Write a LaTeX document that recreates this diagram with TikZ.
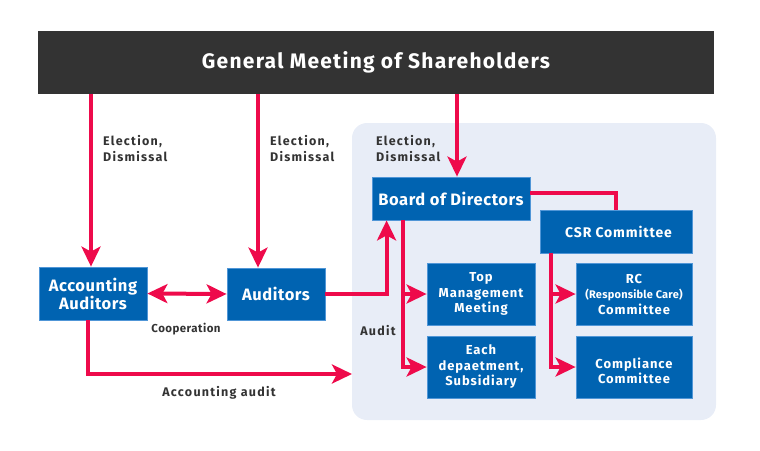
\documentclass[tikz,border=0pt]{standalone}
\usepackage{fontspec}
\setmainfont{Fira Sans}
\usetikzlibrary{arrows.meta,positioning,calc}
\definecolor{gmsdark}{RGB}{51,51,51}
\definecolor{boxblue}{RGB}{0,99,177}
\definecolor{boxedge}{RGB}{80,150,215}
\definecolor{arrred}{RGB}{238,10,75}
\definecolor{panelbg}{RGB}{232,237,247}
\definecolor{labtext}{RGB}{51,51,51}
\newcommand{\spaced}[1]{\addfontfeature{LetterSpace=#1}}
\tikzset{
  topbar/.style={fill=gmsdark, text=white, inner sep=0pt,
                 font=\fontsize{21}{21}\selectfont\bfseries\spaced{6}},
  panel/.style={fill=panelbg, rounded corners=15pt, inner sep=0pt},
  bigbox/.style={draw=boxedge, line width=0.8pt, fill=boxblue, text=white, align=center,
                 inner sep=0pt, font=\fontsize{16.5}{16}\selectfont\bfseries\spaced{3.5}},
  smallbox/.style={draw=boxedge, line width=0.8pt, fill=boxblue, text=white, align=center,
                   inner sep=0pt, minimum width=108, minimum height=62,
                   font=\fontsize{13}{15.5}\selectfont\bfseries\spaced{7}},
  lab/.style={text=labtext, align=left, inner sep=0pt,
              font=\fontsize{12.5}{16}\selectfont\bfseries\spaced{10}},
  redarr/.style={arrred, line width=4pt, -{Stealth[length=20pt, width=19pt, inset=5pt]}},
  redboth/.style={arrred, line width=4pt,
                  {Stealth[length=20pt, width=19pt, inset=5pt]}-{Stealth[length=20pt, width=19pt, inset=5pt]}},
  redline/.style={arrred, line width=4pt},
}

\begin{document}
\begin{tikzpicture}[x=1pt, y=-1pt]
  \useasboundingbox (0,0) rectangle (760,450);
  % background panel and top bar
  \node[panel, minimum width=364, minimum height=297] (panel) at (534,271.5) {};
  \node[topbar, minimum width=676, minimum height=63] (gms) at (376,62.5) {General Meeting of Shareholders};
  % boxes
  \node[bigbox, minimum width=108, minimum height=53] (acc) at (93,293.5) {Accounting\\Auditors};
  \node[bigbox, minimum width=98, minimum height=52] (aud) at (276,294) {Auditors};
  \node[bigbox, minimum width=158, minimum height=43] (bod) at (451,198.5) {Board of Directors};
  \node[bigbox, minimum width=152, minimum height=43, font=\fontsize{14}{16}\selectfont\bfseries\spaced{6}] (csr) at (616,231.5) {\hspace*{5pt}CSR Committee};
  \node[smallbox] (tmm) at (481,294) {Top\\Management\\Meeting};
  \node[smallbox] (dept) at (481,367) {Each\\depaetment,\\Subsidiary};
  \node[smallbox, minimum width=116] (rc) at (634,294) {RC\\{\fontsize{11}{14}\selectfont\spaced{2}(Responsible Care)}\\Committee};
  \node[smallbox, minimum width=116] (comp) at (634,367) {{}\\[3pt]Compliance\\Committee};
  % labels
  \node[lab, anchor=north west] (el1) at (103,135) {Election,\\Dismissal};
  \node[lab, anchor=north west] (el2) at (270,135) {Election,\\Dismissal};
  \node[lab, anchor=north west] (el3) at (376,135) {Election,\\Dismissal};
  \node[lab, font=\fontsize{11.5}{16}\selectfont\bfseries\spaced{4}] (coop) at (186,329) {Cooperation};
  \node[lab] (audl) at (378,331) {Audit};
  \node[lab] (accl) at (219,393) {Accounting audit};
  % anchor points
  \coordinate (accin) at ([xshift=-2pt]acc.north);
  \coordinate (audin) at ([xshift=-18pt]aud.north);
  \coordinate (bodin) at ([xshift=6pt]bod.north);
  \coordinate (bodaud) at ([xshift=15pt]bod.south west);
  \coordinate (accout) at ([xshift=-5pt]acc.south);
  \coordinate (accaud) at (352,374);
  \coordinate (bodout) at ([xshift=31pt]bod.south west);
  \coordinate (csrout) at ([xshift=11pt]csr.south west);
  % connectors
  \draw[redarr] (gms.south -| accin) -- (accin);
  \draw[redarr] (gms.south -| audin) -- (audin);
  \draw[redarr] (gms.south -| bodin) -- (bodin);
  \draw[redboth] (acc.east) -- (aud.west);
  \draw[redarr] (aud.east) -| (bodaud);
  \draw[redarr] (accout) |- (accaud);
  \draw[redarr] (bodout) |- (dept.west);
  \draw[redarr] (bodout |- tmm.west) -- (tmm.west);
  \draw[redline] ([yshift=6pt]bod.east) -| (csr.north);
  \draw[redarr] (csrout) |- (comp.west);
  \draw[redarr] (csrout |- rc.west) -- (rc.west);
\end{tikzpicture}
\end{document}
